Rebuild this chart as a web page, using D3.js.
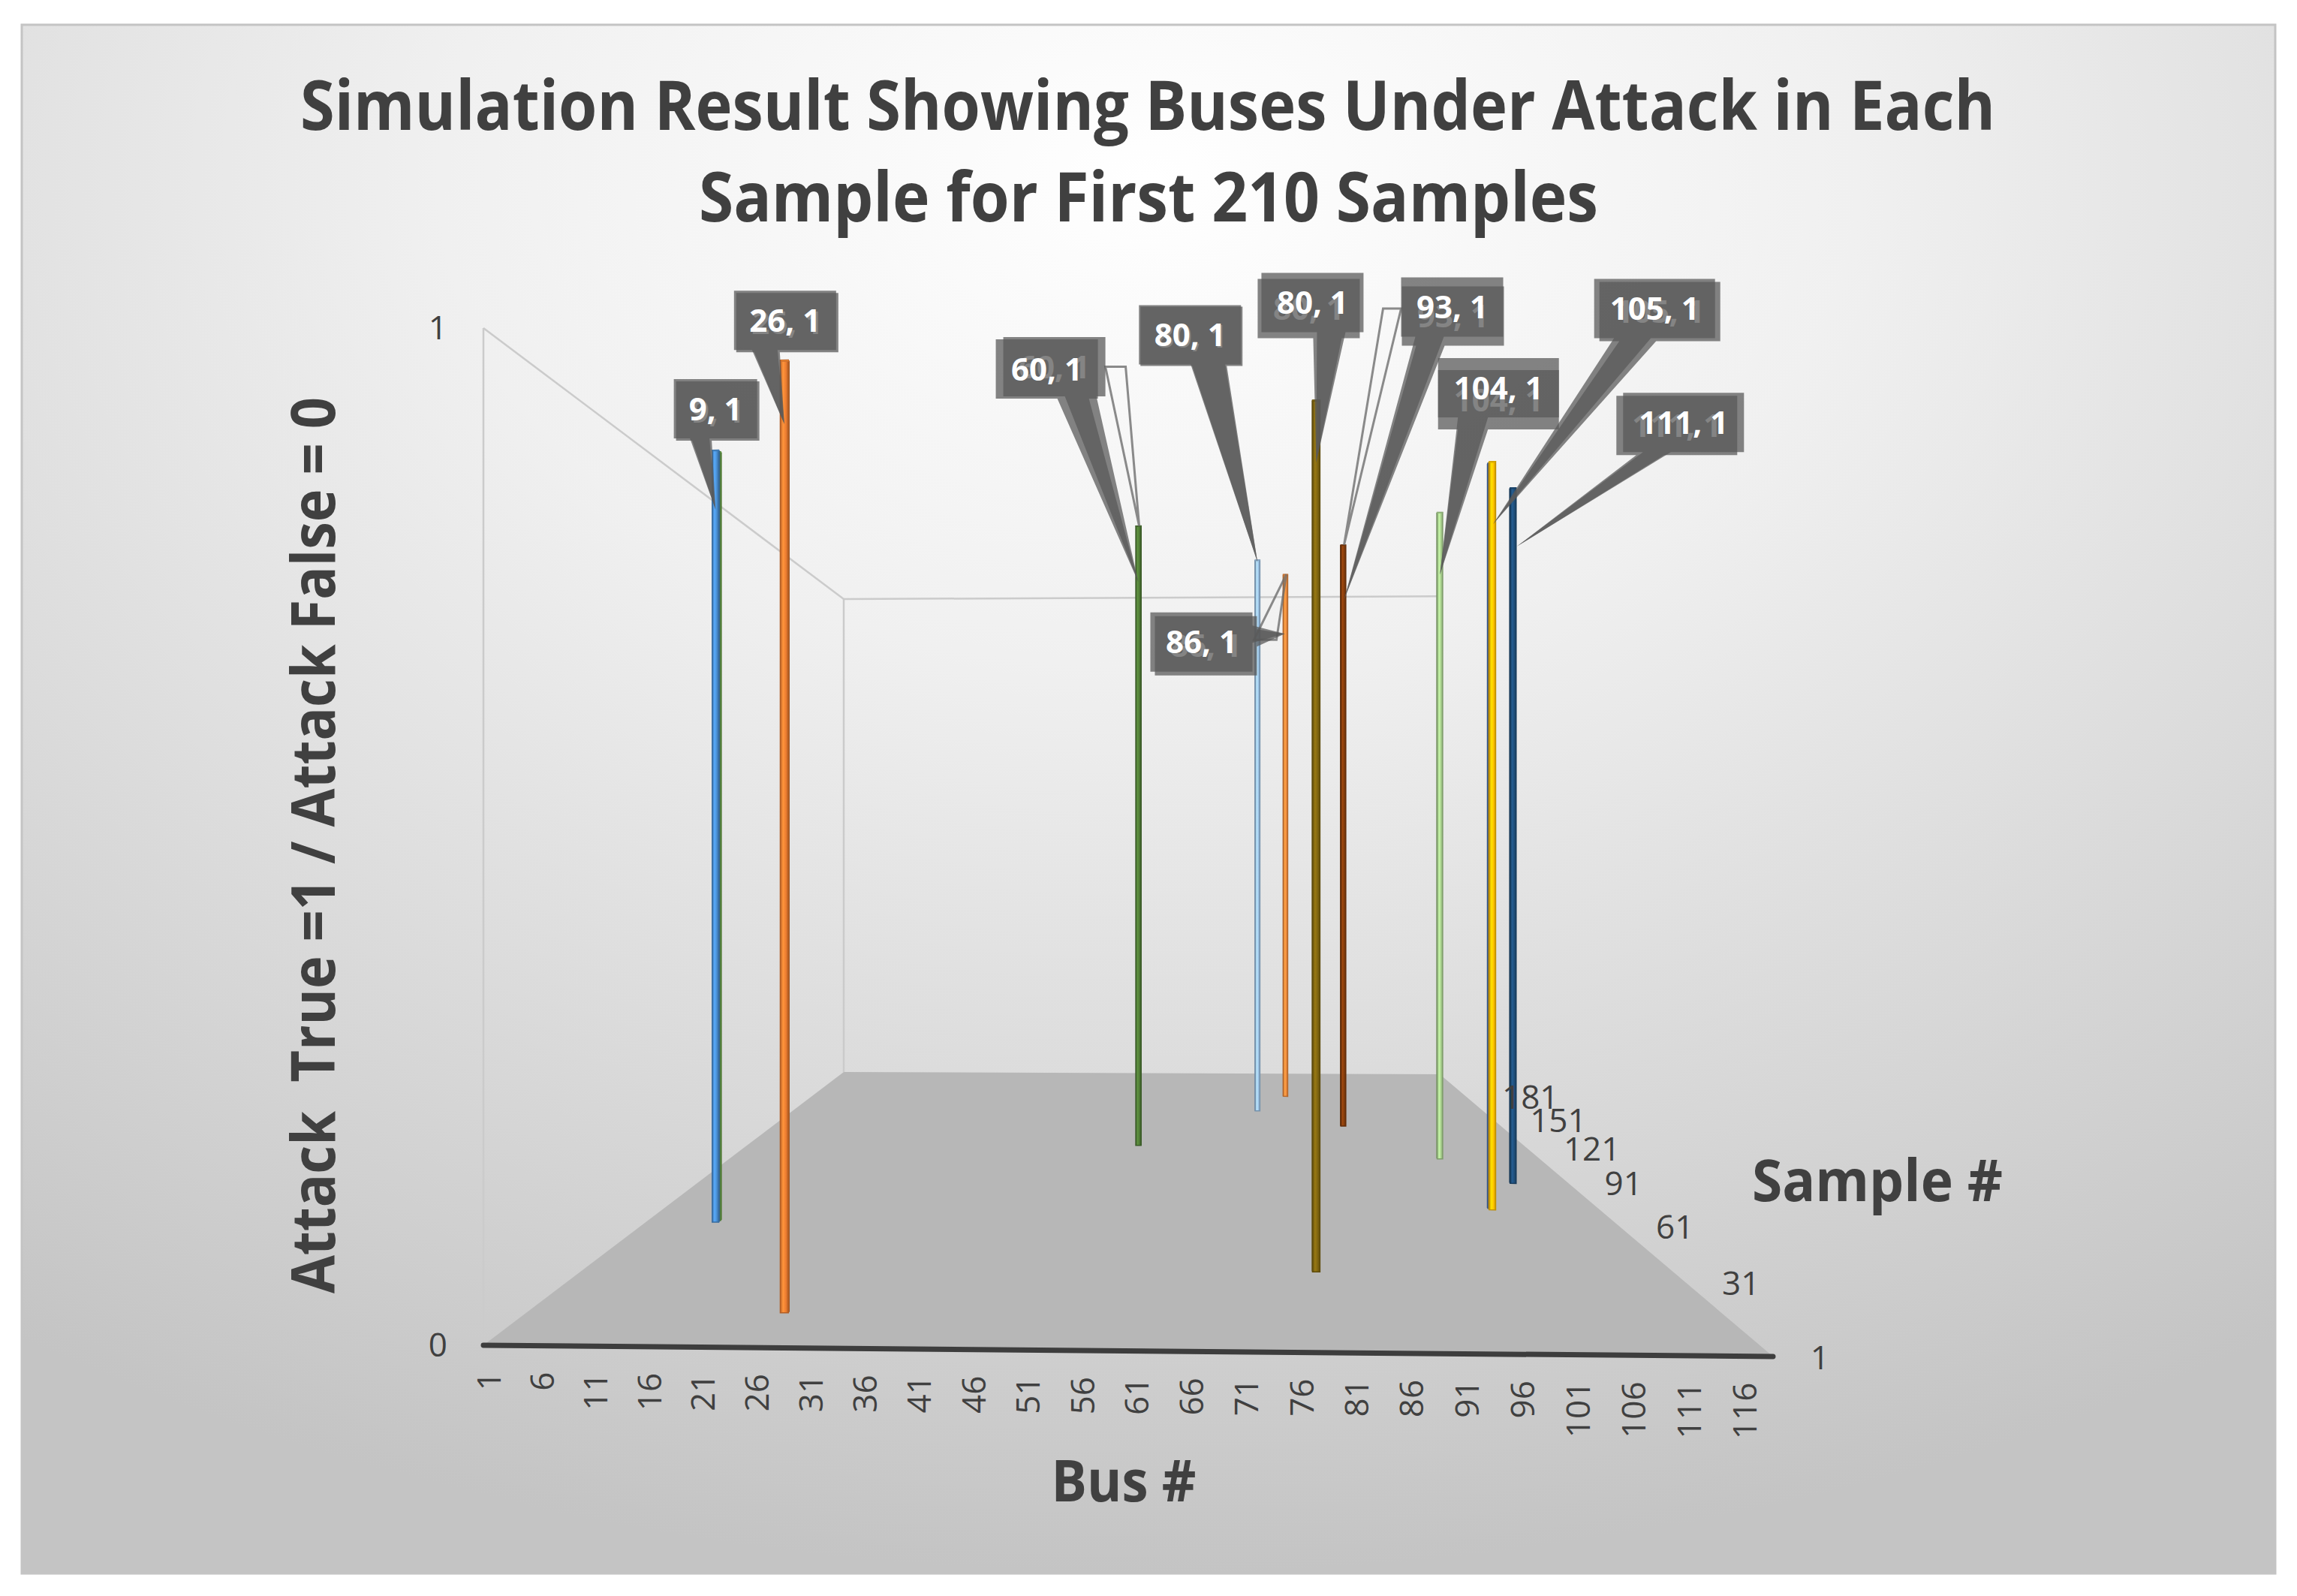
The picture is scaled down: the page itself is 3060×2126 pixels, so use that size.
<!DOCTYPE html>
<html>
<head>
<meta charset="utf-8">
<script src="https://cdn.jsdelivr.net/npm/d3@7"></script>
<style>
  body { margin: 0; background: #ffffff; }
  svg { display: block; }
  text { font-family: "Open Sans", "Noto Sans", sans-serif; }
</style>
</head>
<body>
<svg id="chart" width="3060" height="2126"></svg>
<script>
// ---- data ----
const buses = d3.range(1, 119);            // Bus # categories (1..118)
const samples = d3.range(1, 211);          // Sample # series (1..210)
const busTicks = d3.range(1, 119, 5);      // 1, 6, 11 ... 116
const sampleTicks = [1, 31, 61, 91, 121, 151, 181];
const valueTicks = [0, 1];

// one entry per column that is under attack (value 1)
const attackBus    = [9, 9, 26, 60, 80, 86, 80, 93, 104, 105, 105, 111];
const attackSample = [60, 59, 14, 120, 158, 177, 34, 141, 109, 71, 70, 89];
const attackValue  = [1, 1, 1, 1, 1, 1, 1, 1, 1, 1, 1, 1];

// series colours (style, kept apart from the values)
const columnColors = ["#70ad47", "#4a8fd3", "#ed7d31", "#4f7a35", "#9dc3e6", "#f08a3c",
                      "#7f6510", "#843c0c", "#a9d18e", "#4472c4", "#ffc000", "#1f4e79"];

// data label callouts: box offset from column top, offset of the doubled copy,
// wedge base along the box edge and where the wedge meets the column
const callouts = {
  "9-59":    { dx: 0,    dy: -55,  under: [3, 3],   edge: "bottom", base: [-34, -8],  tip: [0, 79] },
  "26-14":   { dx: 1,    dy: -53,  under: [3, 3],   edge: "bottom", base: [-44, -10], tip: [0, 85] },
  "60-120":  { dx: -122, dy: -209, under: [10, -3], edge: "bottom", base: [14, 56],   tip: [0, 75], leader: [[78, -3], [105, -3]] },
  "80-158":  { dx: -90,  dy: -300, under: [2, 2],   edge: "bottom", base: [1, 47],    tip: [0, 3] },
  "86-177":  { dx: -112, dy: 90,   under: [6, 5],   edge: "right",  base: [-22, 1],   tip: [-1, 79], leader: [[70, -3], [100, -3]] },
  "80-34":   { dx: -5,   dy: -130, under: [-5, 8],  edge: "bottom", base: [6, 44],    tip: [0, 83] },
  "93-141":  { dx: 145,  dy: -317, under: [1, 12],  edge: "bottom", base: [-49, -11], tip: [1, 73], leader: [[-68, 2], [-92, 2]] },
  "104-109": { dx: 78,   dy: -166, under: [0, 16],  edge: "bottom", base: [-54, -14], tip: [0, 83] },
  "105-70":  { dx: 216,  dy: -204, under: [7, 4],   edge: "bottom", base: [-54, -5],  tip: [1, 83] },
  "111-89":  { dx: 227,  dy: -87,  under: [-9, 4],  edge: "bottom", base: [-54, -17], tip: [5, 78] }
};

const svg = d3.select("#chart");
const ink = "#404040";

// ---- 3D frame ----
const panel = { x: 29, y: 33, w: 3002, h: 2063 };
const floorQuad = [[644, 1792], [2362, 1807], [1918, 1431], [1124, 1428]]; // fl, fr, br, bl
const frontHeight = 1355;

// projective map of the unit square (u = bus, v = sample depth) onto the floor
function squareToQuad(q) {
  const [[x0, y0], [x1, y1], [x2, y2], [x3, y3]] = q;
  const dx1 = x1 - x2, dx2 = x3 - x2, dx3 = x0 - x1 + x2 - x3;
  const dy1 = y1 - y2, dy2 = y3 - y2, dy3 = y0 - y1 + y2 - y3;
  const den = dx1 * dy2 - dx2 * dy1;
  const g = (dx3 * dy2 - dx2 * dy3) / den;
  const h = (dx1 * dy3 - dx3 * dy1) / den;
  return {
    a: x1 - x0 + g * x1, b: x3 - x0 + h * x3, c: x0,
    d: y1 - y0 + g * y1, e: y3 - y0 + h * y3, f: y0, g, h
  };
}
const M = squareToQuad(floorQuad);

const xBus = d3.scaleBand().domain(buses).range([0, 1]);
const zSample = d3.scaleBand().domain(samples).range([0, 1]);
const yValue = d3.scaleLinear().domain([0, 1]).range([0, frontHeight]);

function project(u, v, val) {
  const w = 1 + M.g * u + M.h * v;
  const x = (M.a * u + M.b * v + M.c) / w;
  const y = (M.d * u + M.e * v + M.f) / w;
  return [x, y - yValue(val) / w];
}

// ---- background ----
const defs = svg.append("defs");
const bg = defs.append("radialGradient").attr("id", "bg")
  .attr("cx", "50%").attr("cy", "10%").attr("r", "90%")
  .attr("fx", "50%").attr("fy", "10%");
bg.selectAll("stop")
  .data([[0, "#ffffff"], [0.35, "#f0f0f0"], [1, "#c4c4c4"]])
  .join("stop")
    .attr("offset", d => d[0])
    .attr("stop-color", d => d[1]);

svg.append("rect")
  .attr("x", panel.x).attr("y", panel.y)
  .attr("width", panel.w).attr("height", panel.h)
  .attr("fill", "url(#bg)")
  .attr("stroke", "#c4c4c4")
  .attr("stroke-width", 3);

// ---- walls and floor ----
const line = d3.line();
const walls = svg.append("g")
  .attr("fill", "none")
  .attr("stroke", "#cbcbcb")
  .attr("stroke-width", 2.5);
[
  [[0, 0, 0], [0, 0, 1]],
  [[0, 0, 1], [0, 1, 1]],
  [[0, 1, 1], [0, 1, 0]],
  [[0, 1, 1], [1, 1, 1]]
].forEach(seg => walls.append("path").attr("d", line(seg.map(p => project(...p)))));

svg.append("path")
  .attr("d", line([[0, 0], [1, 0], [1, 1], [0, 1]].map(p => project(p[0], p[1], 0))) + "Z")
  .attr("fill", "#b7b7b7");

svg.append("path")
  .attr("d", line([project(0, 0, 0), project(1, 0, 0)]))
  .attr("stroke", "#3d3d3d")
  .attr("stroke-width", 7)
  .attr("stroke-linecap", "round");

// ---- columns ----
const columns = attackBus.map((b, i) => ({
  bus: b, sample: attackSample[i], value: attackValue[i], color: columnColors[i], i
})).sort((a, b) => b.sample - a.sample);

const barGroup = svg.append("g");
columns.forEach(d => {
  const bw = xBus.bandwidth(), sw = zSample.bandwidth();
  const u0 = xBus(d.bus) + bw * 0.1, u1 = u0 + bw * 0.8;
  const v0 = zSample(d.sample) + sw * 0.25, v1 = v0 + sw * 0.5;
  const c = d3.color(d.color);

  const grad = defs.append("linearGradient").attr("id", "bar" + d.i)
    .attr("x1", 0).attr("x2", 1).attr("y1", 0).attr("y2", 0);
  grad.selectAll("stop")
    .data([[0, c.darker(0.6)], [0.35, c.brighter(0.5)], [0.7, c], [1, c.darker(0.7)]])
    .join("stop")
      .attr("offset", s => s[0])
      .attr("stop-color", s => s[1]);

  const rightSide = project(u1, v1, 0)[0] > project(u1, v0, 0)[0];
  const us = rightSide ? u1 : u0;
  const side = [project(us, v0, 0), project(us, v1, 0), project(us, v1, d.value), project(us, v0, d.value)];
  const front = [project(u0, v0, 0), project(u1, v0, 0), project(u1, v0, d.value), project(u0, v0, d.value)];
  const top = [project(u0, v0, d.value), project(u1, v0, d.value), project(u1, v1, d.value), project(u0, v1, d.value)];

  barGroup.append("path").attr("d", line(side) + "Z")
    .attr("fill", c.darker(0.9)).attr("stroke", c.darker(1.1)).attr("stroke-width", 1);
  barGroup.append("path").attr("d", line(front) + "Z")
    .attr("fill", `url(#bar${d.i})`).attr("stroke", c.darker(0.8)).attr("stroke-width", 1.5);
  barGroup.append("path").attr("d", line(top) + "Z")
    .attr("fill", c.brighter(0.6)).attr("stroke", c.darker(0.5)).attr("stroke-width", 1);
  d.anchor = project((u0 + u1) / 2, v0, d.value);
});

// ---- tick labels ----
const ticks = svg.append("g").attr("fill", ink).style("font-size", "44px");

ticks.selectAll(".ytick")
  .data(valueTicks)
  .join("text")
    .attr("class", "ytick")
    .attr("x", d => project(0, 0, d)[0] - 48)
    .attr("y", d => project(0, 0, d)[1])
    .attr("dy", "0.35em")
    .attr("text-anchor", "end")
    .text(d => d);

ticks.selectAll(".xtick")
  .data(busTicks)
  .join("text")
    .attr("class", "xtick")
    .attr("transform", d => {
      const p = project(xBus(d) + xBus.bandwidth() / 2, 0, 0);
      return `translate(${p[0]},${p[1] + 35}) rotate(-90)`;
    })
    .attr("dy", "0.35em")
    .attr("text-anchor", "end")
    .text(d => d);

ticks.selectAll(".ztick")
  .data(sampleTicks)
  .join("text")
    .attr("class", "ztick")
    .attr("x", d => project(1, zSample(d) + zSample.bandwidth() / 2, 0)[0] + 52)
    .attr("y", d => project(1, zSample(d) + zSample.bandwidth() / 2, 0)[1] + 4)
    .attr("dy", "0.35em")
    .text(d => d);

// ---- titles ----
function fitted(sel, len) {
  return sel.attr("textLength", len).attr("lengthAdjust", "spacingAndGlyphs");
}
const titles = svg.append("g").attr("fill", ink).style("font-weight", "bold");

fitted(titles.append("text")
  .attr("x", 1529).attr("y", 173)
  .attr("text-anchor", "middle")
  .style("font-size", "91px")
  .text("Simulation Result Showing Buses Under Attack in Each"), 2258);
fitted(titles.append("text")
  .attr("x", 1530).attr("y", 295)
  .attr("text-anchor", "middle")
  .style("font-size", "91px")
  .text("Sample for First 210 Samples"), 1198);

fitted(titles.append("text")
  .attr("x", 1497).attr("y", 2000)
  .attr("text-anchor", "middle")
  .style("font-size", "77px")
  .text("Bus #"), 193);

fitted(titles.append("text")
  .attr("x", 2334).attr("y", 1600)
  .style("font-size", "77px")
  .text("Sample #"), 334);

fitted(titles.append("text")
  .attr("transform", "translate(446,1126) rotate(-90)")
  .attr("text-anchor", "middle")
  .style("font-size", "80px")
  .style("white-space", "pre")
  .text("Attack  True =1 / Attack False = 0"), 1194);

// ---- data label callouts ----
const boxFill = "rgba(89,89,89,0.74)";
const labelGroup = svg.append("g");

columns.slice().sort((a, b) => a.bus - b.bus).forEach(d => {
  const cfg = callouts[d.bus + "-" + d.sample];
  if (!cfg) return;
  const label = `${d.bus}, ${d.value}`;
  const w = 25 * label.length + 11, h = 79;
  const [ax, ay] = d.anchor;
  const tip = [ax + cfg.tip[0], ay + cfg.tip[1]];
  const cx0 = ax + cfg.dx, cy0 = ay + cfg.dy;

  if (cfg.leader) {
    const pts = cfg.leader.map(p => [cx0 + p[0], cy0 + p[1]]);
    labelGroup.append("path")
      .attr("d", line([pts[0], pts[1], [ax + 1, ay]]) + "Z")
      .attr("fill", "none")
      .attr("stroke", "rgba(110,110,110,0.8)")
      .attr("stroke-width", 3);
  }

  [cfg.under, [0, 0]].forEach(off => {
    const cx = cx0 + off[0], cy = cy0 + off[1];
    const l = cx - w / 2, r = cx + w / 2, t = cy - h / 2, b = cy + h / 2;
    let pts;
    if (cfg.edge === "right") {
      pts = [[l, t], [r, t], [r, cy + cfg.base[0]], tip, [r, cy + cfg.base[1]], [r, b], [l, b]];
    } else {
      pts = [[l, t], [r, t], [r, b], [cx + cfg.base[1], b], tip, [cx + cfg.base[0], b], [l, b]];
    }
    labelGroup.append("path")
      .attr("d", line(pts) + "Z")
      .attr("fill", boxFill);
    labelGroup.append("text")
      .attr("x", cx).attr("y", cy)
      .attr("dy", "0.36em")
      .attr("text-anchor", "middle")
      .attr("fill", "#ffffff")
      .style("font-weight", "bold")
      .style("font-size", "42px")
      .text(label);
  });
});
</script>
</body>
</html>
